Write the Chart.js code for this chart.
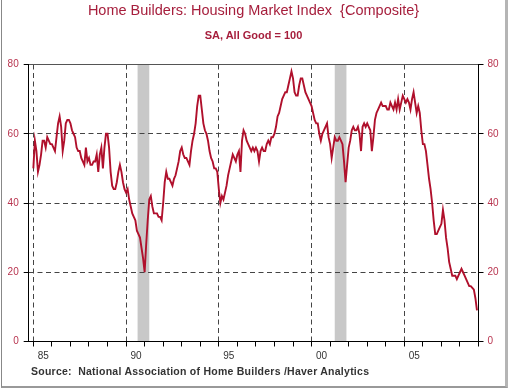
<!DOCTYPE html>
<html>
<head>
<meta charset="utf-8">
<script src="https://cdn.jsdelivr.net/npm/chart.js@4"></script>
<style>
  body { margin: 0; background: #fff; }
  #wrap { position: relative; width: 510px; height: 390px; overflow: hidden; font-family: "Liberation Sans", Arial, sans-serif; }
  #frame { position: absolute; left: 1px; top: -2px; width: 503px; height: 388px; border-left: 1px solid #888; border-right: 3px solid #b5b5b5; border-bottom: 2px solid #999; }
  canvas { position: absolute; left: 0; top: 0; }
  .txt { position: absolute; white-space: pre; }
  #title { left: 0; width: 507px; top: 2px; text-align: center; font-size: 14.5px; color: #a61e3c; }
  #sub { left: 0; width: 507px; top: 29px; text-align: center; font-size: 11px; font-weight: bold; color: #a61e3c; }
  #source { left: 31px; top: 365px; font-size: 10.5px; font-weight: bold; letter-spacing: 0.25px; color: #333; }
</style>
</head>
<body>
<div id="wrap">
  <canvas id="hmiChart" width="510" height="390"></canvas>
  <div id="frame"></div>
  <div class="txt" id="title">Home Builders: Housing Market Index  {Composite}</div>
  <div class="txt" id="sub">SA, All Good = 100</div>
  <div class="txt" id="source">Source:  National Association of Home Builders /Haver Analytics</div>
</div>
<script>
// monthly index, Jan 1985 .. Dec 2008 (one row per year)
const startYear = 1985;
const hmi = [
    50, 58, 55, 49, 51, 54, 58, 58, 56, 59, 58, 57,
    57, 56, 55, 59, 63, 65, 62, 55, 58, 63, 64, 64,
    63, 61, 60, 59, 56, 55, 55, 53, 52, 51, 56, 52,
    53, 51, 51, 52, 52, 54, 49, 54, 56, 50, 56, 60,
    60, 56, 49, 45, 44, 44, 46, 49, 51, 49, 46, 44,
    43, 44, 41, 39, 37, 36, 35, 32, 31, 30, 27, 24,
    20, 28, 35, 41, 42, 39, 37, 37, 37, 36, 36, 35,
    40, 46, 49, 47, 47, 46, 45, 47, 48, 50, 52, 55,
    56, 54, 53, 53, 52, 51, 55, 58, 60, 63, 68, 71,
    71, 67, 63, 61, 60, 58, 55, 53, 52, 50, 50, 49,
    44, 40, 42, 41, 43, 45, 48, 50, 52, 54, 53, 52,
    54, 55, 49, 58, 61, 60, 58, 57, 56, 55, 56, 55,
    56, 55, 52, 55, 56, 55, 55, 57, 58, 57, 59, 59,
    60, 62, 65, 66, 68, 70, 71, 72, 72, 74, 76, 78,
    76, 72, 71, 71, 74, 76, 76, 74, 72, 71, 70, 69,
    68, 66, 64, 63, 63, 60, 58, 60, 61, 62, 63, 59,
    57, 53, 56, 59, 58, 58, 59, 58, 57, 52, 46, 51,
    56, 58, 61, 62, 61, 61, 62, 60, 55, 62, 63, 62,
    63, 62, 61, 55, 59, 64, 66, 67, 68, 69, 68, 68,
    68, 67, 67, 69, 68, 67, 69, 67, 70, 67, 69, 71,
    70, 69, 70, 69, 67, 70, 72, 69, 66, 68, 66, 61,
    57, 57, 55, 51, 47, 44, 40, 35, 31, 31, 32, 33,
    34, 38, 35, 30, 27, 23, 21, 19, 19, 19, 18, 19,
    20, 21, 20, 19, 18, 17, 16, 16, 15.5, 15, 12.5, 9
];
const recessions = [[1990.62, 1991.25], [2001.25, 2001.88]];
const tickYears = [1985, 1990, 1995, 2000, 2005];
const tickLabels = ['85', '90', '95', '00', '05'];
const yTicks = [0, 20, 40, 60, 80];

const xMin = 1984.75, xMax = 2009;
const points = hmi.map((v, i) => ({ x: startYear + i / 12, y: v }));

const recessionBands = {
    id: 'recessionBands',
    beforeDraw(chart) {
        const { ctx, chartArea, scales } = chart;
        ctx.save();
        ctx.fillStyle = '#c8c8c8';
        recessions.forEach(([a, b]) => {
            const x1 = scales.x.getPixelForValue(a);
            const x2 = scales.x.getPixelForValue(b);
            ctx.fillRect(x1, chartArea.top, x2 - x1, chartArea.bottom - chartArea.top);
        });
        ctx.restore();
    }
};

const yearTicks = [];
for (let y = tickYears[0]; y <= xMax; y++) yearTicks.push(y);

const dash = [5, 3.5];
const redText = '#b8344f';

new Chart(document.getElementById('hmiChart'), {
    type: 'line',
    data: {
        datasets: [{
            data: points,
            borderColor: '#b0102c',
            borderWidth: 1.9,
            pointRadius: 0,
            tension: 0,
            fill: false
        }]
    },
    options: {
        responsive: false,
        animation: false,
        devicePixelRatio: 1,
        layout: { padding: { top: 64.5, left: 0, right: 0, bottom: 0 } },
        plugins: {
            legend: { display: false },
            tooltip: { enabled: false }
        },
        scales: {
            x: {
                type: 'linear',
                position: 'bottom',
                min: xMin,
                max: xMax,
                afterBuildTicks: s => { s.ticks = yearTicks.map(v => ({ value: v })); },
                afterFit: s => { s.height = 48.5; },
                border: { display: true, color: '#000', width: 1, dash: dash },
                grid: {
                    color: c => (tickYears.includes(c.tick && c.tick.value) ? '#444' : 'rgba(0,0,0,0)'),
                    tickColor: '#000',
                    tickLength: 5,
                    lineWidth: 1
                },
                ticks: {
                    autoSkip: false,
                    maxRotation: 0,
                    labelOffset: 10,
                    padding: 4,
                    color: '#333',
                    font: { family: 'Liberation Sans', size: 10 },
                    callback: v => {
                        const k = tickYears.indexOf(v);
                        return k >= 0 ? tickLabels[k] : '';
                    }
                }
            },
            xt: {
                type: 'linear',
                position: 'top',
                min: xMin,
                max: xMax,
                afterFit: s => { s.height = 0; },
                border: { display: true, color: '#555', width: 1 },
                grid: { display: false },
                ticks: { display: false }
            },
            y: {
                position: 'left',
                min: 0,
                max: 80,
                afterBuildTicks: s => { s.ticks = yTicks.map(v => ({ value: v })); },
                afterFit: s => { s.width = 28.7; },
                border: { display: true, color: '#000', width: 1, dash: dash },
                grid: {
                    color: c => (c.tick && c.tick.value > 0 && c.tick.value < 80 ? '#444' : 'rgba(0,0,0,0)'),
                    tickColor: '#000',
                    tickLength: 5,
                    lineWidth: 1
                },
                ticks: {
                    padding: 5,
                    color: redText,
                    font: { family: 'Liberation Sans', size: 10 }
                }
            },
            y2: {
                position: 'right',
                min: 0,
                max: 80,
                afterBuildTicks: s => { s.ticks = yTicks.map(v => ({ value: v })); },
                afterFit: s => { s.width = 31.5; },
                border: { display: true, color: '#000', width: 1 },
                grid: {
                    drawOnChartArea: false,
                    tickColor: '#000',
                    tickLength: 5
                },
                ticks: {
                    padding: 4,
                    color: redText,
                    font: { family: 'Liberation Sans', size: 10 }
                }
            }
        }
    },
    plugins: [recessionBands]
});
</script>
</body>
</html>
